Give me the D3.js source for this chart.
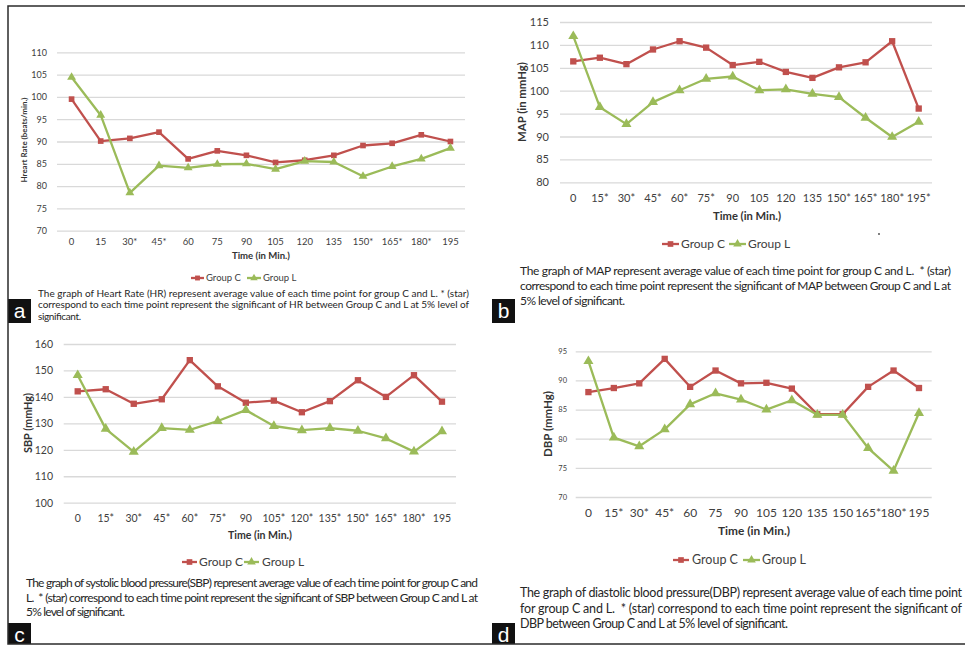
<!DOCTYPE html>
<html>
<head>
<meta charset="utf-8">
<script src="https://cdn.jsdelivr.net/npm/d3@7"></script>
<style>
  html, body { margin: 0; padding: 0; background: #fff; }
  svg { display: block; }
  text { font-family: Lato, "Open Sans", "DejaVu Sans", sans-serif; white-space: pre; }
</style>
</head>
<body>
<svg id="fig" width="965" height="646"></svg>
<script>
// ---- Data ----------------------------------------------------------------
const seriesNames = ["Group C", "Group L"];

const hrTimes   = ["0", "15", "30*", "45*", "60", "75", "90", "105", "120", "135", "150*", "165*", "180*", "195"];
const hrGroupC  = [99.5, 90.1, 90.7, 92.1, 86.1, 87.9, 86.9, 85.3, 85.8, 86.9, 89.1, 89.6, 91.5, 90.0];
const hrGroupL  = [104.4, 95.9, 78.5, 84.6, 84.1, 84.9, 85.0, 83.8, 85.6, 85.4, 82.2, 84.4, 86.1, 88.5];
const hrTicks   = [70, 75, 80, 85, 90, 95, 100, 105, 110];

const mapTimes  = ["0", "15*", "30*", "45*", "60*", "75*", "90", "105", "120", "135", "150*", "165*", "180*", "195*"];
const mapGroupC = [106.4, 107.2, 105.8, 109.0, 110.8, 109.4, 105.6, 106.3, 104.1, 102.8, 105.1, 106.2, 110.8, 96.1];
const mapGroupL = [111.9, 96.4, 92.7, 97.5, 100.1, 102.6, 103.1, 100.1, 100.3, 99.3, 98.6, 94.1, 89.9, 93.2];
const mapTicks  = [80, 85, 90, 95, 100, 105, 110, 115];

const sbpTimes  = ["0", "15*", "30*", "45*", "60*", "75*", "90", "105*", "120*", "135*", "150*", "165*", "180*", "195"];
const sbpGroupC = [142.1, 142.9, 137.4, 139.1, 153.9, 144.0, 137.8, 138.6, 134.2, 138.4, 146.3, 140.0, 148.2, 138.2];
const sbpGroupL = [148.2, 127.9, 119.2, 128.2, 127.5, 130.9, 135.0, 129.0, 127.4, 128.2, 127.2, 124.3, 119.3, 127.0];
const sbpTicks  = [100, 110, 120, 130, 140, 150, 160];

const dbpTimes  = ["0", "15*", "30*", "45*", "60", "75", "90", "105", "120", "135", "150", "165*", "180*", "195"];
const dbpGroupC = [88.0, 88.7, 89.5, 93.7, 88.9, 91.7, 89.5, 89.6, 88.6, 84.2, 84.2, 88.9, 91.7, 88.7];
const dbpGroupL = [93.3, 80.2, 78.7, 81.6, 85.9, 87.8, 86.7, 85.0, 86.6, 84.1, 84.1, 78.4, 74.5, 84.4];
const dbpTicks  = [70, 75, 80, 85, 90, 95];

const hrCaption = [
  "The graph of Heart Rate (HR) represent average value of each time point for group C and L. * (star)",
  "correspond to each time point represent the significant of HR between Group C and L at 5% level of",
  "significant."
];
const mapCaption = [
  "The graph of MAP represent average value of each time point for group C and L.  * (star)",
  "correspond to each time point represent the significant of MAP between Group C and L at",
  "5% level of significant."
];
const sbpCaption = [
  "The graph of systolic blood pressure(SBP) represent average value of each time point for group C and",
  "L.  * (star) correspond to each time point represent the significant of SBP between Group C and L at",
  "5% level of significant."
];
const dbpCaption = [
  "The graph of diastolic blood pressure(DBP) represent average value of each time point",
  "for group C and L.  * (star) correspond to each time point represent the significant of",
  "DBP between Group C and L at 5% level of significant."
];

// ---- Styles --------------------------------------------------------------
const colorC = "#c0504d";
const colorL = "#9bbb59";
const gridColor = "#d9d9d9";
const tickColor = "#404040";
const titleColor = "#333333";
const captionColor = "#262626";

// ---- Panel layout --------------------------------------------------------
const panels = [
  {
    letter: "a", times: hrTimes, c: hrGroupC, l: hrGroupL, ticks: hrTicks,
    yTitle: "Hreart Rate (beats/min.)", caption: hrCaption,
    plot: { x0: 57, x1: 465, top: 52.3, bottom: 230.7 },
    yTick: { right: 47, size: 9 }, xTick: { y: 242, size: 9.5 },
    xTitle: { x: 261, y: 256, size: 9.5, len: 58 },
    yTitleP: { x: 24, y: 140, size: 7.2, len: 85 },
    legend: { y: 278, c0: 191, c1: 204, ct: 206, l0: 247, l1: 261, lt: 263, size: 9.5, msize: 24 },
    cap: { x: 38, x1: 469, y: [297, 308.2, 319.6], size: 10, lastEnd: 81 },
    box: { x: 8, y: 299, w: 23, h: 24 },
    msize: { sq: 32, tri: 34 }
  },
  {
    letter: "b", times: mapTimes, c: mapGroupC, l: mapGroupL, ticks: mapTicks,
    yTitle: "MAP (in mmHg)", caption: mapCaption,
    plot: { x0: 560, x1: 932, top: 22, bottom: 182.3 },
    yTick: { right: 549, size: 11 }, xTick: { y: 198, size: 11 },
    xTitle: { x: 747, y: 216, size: 11.5, len: 68 },
    yTitleP: { x: 522, y: 102, size: 11.5, len: 80 },
    legend: { y: 244, c0: 662, c1: 679, ct: 681, l0: 729, l1: 746, lt: 748, size: 12, msize: 32 },
    cap: { x: 520, x1: 951, y: [275.3, 290.3, 305.3], size: 12, lastEnd: 625 },
    box: { x: 492, y: 299, w: 23, h: 24 },
    msize: { sq: 40, tri: 44 }
  },
  {
    letter: "c", times: sbpTimes, c: sbpGroupC, l: sbpGroupL, ticks: sbpTicks,
    yTitle: "SBP (mmHg)", caption: sbpCaption,
    plot: { x0: 63.7, x1: 456, top: 344, bottom: 502.7 },
    yTick: { right: 53, size: 10.5 }, xTick: { y: 518, size: 10.5 },
    xTitle: { x: 260, y: 535, size: 11, len: 64 },
    yTitleP: { x: 28, y: 423, size: 10.5, len: 60 },
    legend: { y: 562, c0: 182, c1: 197, ct: 199, l0: 244, l1: 259, lt: 262, size: 12, msize: 32 },
    cap: { x: 26, x1: 478, y: [587.3, 601.8, 616], size: 12, lastEnd: 125 },
    box: { x: 8, y: 623, w: 23, h: 21 },
    msize: { sq: 40, tri: 44 }
  },
  {
    letter: "d", times: dbpTimes, c: dbpGroupC, l: dbpGroupL, ticks: dbpTicks,
    yTitle: "DBP (mmHg)", caption: dbpCaption,
    plot: { x0: 575.7, x1: 931.7, top: 351.3, bottom: 497 },
    yTick: { right: 567, size: 7.5 }, xTick: { y: 513, size: 12 },
    xTitle: { x: 754, y: 531, size: 12, len: 72 },
    yTitleP: { x: 548, y: 424, size: 11, len: 66 },
    legend: { y: 560, c0: 673, c1: 689, ct: 692, l0: 743, l1: 760, lt: 762, size: 12.5, msize: 32 },
    cap: { x: 520, x1: 962, y: [597.3, 612.8, 628.3], size: 12.5, lastEnd: 788 },
    box: { x: 492, y: 623, w: 23, h: 21 },
    msize: { sq: 40, tri: 44 }
  }
];

const svg = d3.select("#fig");

function drawPanel(p) {
  const g = svg.append("g").attr("class", "panel-" + p.letter);
  const lo = p.plot;

  const x = d3.scaleBand().domain(p.times).range([lo.x0, lo.x1]).padding(0);
  const y = d3.scaleLinear()
    .domain([d3.min(p.ticks), d3.max(p.ticks)])
    .range([lo.bottom, lo.top]);
  const cx = t => x(t) + x.bandwidth() / 2;

  // horizontal gridlines
  const grid = g.append("g")
    .attr("transform", `translate(${lo.x0},0)`)
    .call(d3.axisLeft(y).tickValues(p.ticks).tickSize(-(lo.x1 - lo.x0)).tickFormat(""));
  grid.select(".domain").remove();
  grid.selectAll("line").attr("stroke", gridColor).attr("stroke-width", 1.3);

  // y tick labels
  const yAx = g.append("g")
    .attr("transform", `translate(${p.yTick.right},0)`)
    .call(d3.axisLeft(y).tickValues(p.ticks).tickSize(0).tickPadding(0));
  yAx.select(".domain").remove();
  yAx.selectAll("text")
    .attr("fill", tickColor)
    .style("font-size", p.yTick.size + "px")
    .style("font-family", "Lato, 'Open Sans', sans-serif");

  // x tick labels
  const xAx = g.append("g")
    .attr("transform", `translate(0,${p.xTick.y})`)
    .call(d3.axisBottom(x).tickSize(0).tickPadding(0));
  xAx.select(".domain").remove();
  xAx.selectAll("text")
    .attr("y", 0).attr("dy", "0.35em")
    .attr("fill", tickColor)
    .style("font-size", p.xTick.size + "px")
    .style("font-family", "Lato, 'Open Sans', sans-serif");

  // axis titles
  g.append("text")
    .attr("x", p.xTitle.x).attr("y", p.xTitle.y).attr("dy", "0.35em")
    .attr("text-anchor", "middle")
    .attr("font-weight", "bold")
    .attr("fill", titleColor)
    .attr("font-size", p.xTitle.size)
    .attr("textLength", p.xTitle.len)
    .attr("lengthAdjust", "spacingAndGlyphs")
    .text("Time (in Min.)");

  g.append("text")
    .attr("transform", `translate(${p.yTitleP.x},${p.yTitleP.y}) rotate(-90)`)
    .attr("dy", "0.35em")
    .attr("text-anchor", "middle")
    .attr("font-weight", "bold")
    .attr("fill", titleColor)
    .attr("font-size", p.yTitleP.size)
    .attr("textLength", p.yTitleP.len)
    .attr("lengthAdjust", "spacingAndGlyphs")
    .text(p.yTitle);

  // series lines + markers
  const series = [
    { name: seriesNames[0], values: p.c, color: colorC, symbol: d3.symbolSquare, size: p.msize.sq },
    { name: seriesNames[1], values: p.l, color: colorL, symbol: d3.symbolTriangle, size: p.msize.tri }
  ];
  const line = d3.line().x(d => cx(d.t)).y(d => y(d.v));

  series.forEach(s => {
    const pts = p.times.map((t, i) => ({ t, v: s.values[i] }));
    g.append("path")
      .datum(pts)
      .attr("fill", "none")
      .attr("stroke", s.color)
      .attr("stroke-width", 2.3)
      .attr("stroke-linejoin", "round")
      .attr("d", line);
    g.append("g").selectAll("path")
      .data(pts)
      .join("path")
      .attr("transform", d => `translate(${cx(d.t)},${y(d.v)})`)
      .attr("d", d3.symbol(s.symbol, s.size))
      .attr("fill", s.color);
  });

  // legend
  const lg = p.legend;
  const legendItems = [
    { name: seriesNames[0], color: colorC, symbol: d3.symbolSquare, x0: lg.c0, x1: lg.c1, tx: lg.ct },
    { name: seriesNames[1], color: colorL, symbol: d3.symbolTriangle, x0: lg.l0, x1: lg.l1, tx: lg.lt }
  ];
  legendItems.forEach(it => {
    g.append("line")
      .attr("x1", it.x0).attr("x2", it.x1)
      .attr("y1", lg.y).attr("y2", lg.y)
      .attr("stroke", it.color).attr("stroke-width", 2.3);
    g.append("path")
      .attr("transform", `translate(${(it.x0 + it.x1) / 2},${lg.y})`)
      .attr("d", d3.symbol(it.symbol, lg.msize))
      .attr("fill", it.color);
    g.append("text")
      .attr("x", it.tx).attr("y", lg.y).attr("dy", "0.35em")
      .attr("fill", tickColor)
      .attr("font-size", lg.size)
      .text(it.name);
  });

  // caption below the chart
  const cp = p.cap;
  p.caption.forEach((txt, i) => {
    const last = i === p.caption.length - 1;
    g.append("text")
      .attr("x", cp.x).attr("y", cp.y[i])
      .attr("fill", captionColor)
      .attr("font-size", cp.size)
      .attr("textLength", last ? cp.lastEnd - cp.x : cp.x1 - cp.x)
      .attr("lengthAdjust", "spacing")
      .text(txt);
  });

  // panel letter
  g.append("rect")
    .attr("x", p.box.x).attr("y", p.box.y)
    .attr("width", p.box.w).attr("height", p.box.h)
    .attr("fill", "#111");
  g.append("text")
    .attr("x", p.box.x + p.box.w / 2).attr("y", p.box.y + 12)
    .attr("dy", "0.35em")
    .attr("text-anchor", "middle")
    .attr("fill", "#fff")
    .attr("font-size", 21)
    .style("font-family", "'Liberation Sans', Arial, sans-serif")
    .text(p.letter);
}

panels.forEach(drawPanel);

// small stray mark beside the MAP legend
svg.append("circle").attr("cx", 879).attr("cy", 234).attr("r", 0.9).attr("fill", "#444");

// figure frame (top, left and bottom rules)
svg.append("path")
  .attr("d", "M965,6 H8 V644 H965")
  .attr("fill", "none")
  .attr("stroke", "#2b2b2b")
  .attr("stroke-width", 1.5);
</script>
</body>
</html>
